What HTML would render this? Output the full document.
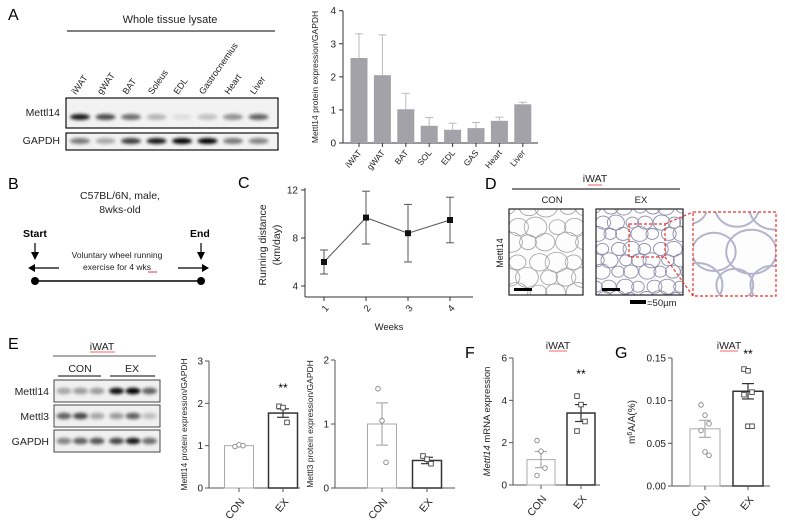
<!DOCTYPE html>
<html><head><meta charset="utf-8"><style>
html,body{margin:0;padding:0;background:#fff}
svg{display:block;font-family:"Liberation Sans",Arial,sans-serif}
</style></head><body>
<svg id="fig" width="785" height="527" viewBox="0 0 785 527" xmlns="http://www.w3.org/2000/svg">
<defs>
<filter id="blur" x="-50%" y="-100%" width="200%" height="300%"><feGaussianBlur stdDeviation="1.6"/></filter>
</defs>
<g id="root"></g>
</svg>
<script>
// ---------- Data ----------
const tissueCats = ["iWAT","gWAT","BAT","SOL","EDL","GAS","Heart","Liver"];
const tissueVals = [2.57,2.05,1.02,0.52,0.40,0.45,0.67,1.17];
const tissueErr  = [0.73,1.22,0.48,0.25,0.20,0.17,0.11,0.06];
const tissueTicks = [0,1,2,3,4];
const blotLanes = ["iWAT","gWAT","BAT","Soleus","EDL","Gastrocnemius","Heart","Liver"];
const blotM14 = [0.9,0.7,0.55,0.25,0.08,0.2,0.4,0.6];
const blotGapdh = [0.5,0.3,0.75,0.9,1.0,1.0,0.5,0.45];

const weeks = [1,2,3,4];
const runDist = [6.0,9.7,8.4,9.5];
const runErr = [1.0,2.2,2.4,1.9];
const runTicks = [4,8,12];

const groups = ["CON","EX"];
const m14Means = [1.0,1.77];
const m14Sem = [0.02,0.1];
const m14Pts = [[0.98,1.02,1.0],[1.93,1.9,1.55]];
const m14Ticks = [0,1,2,3];
const m3Means = [1.0,0.43];
const m3Sem = [0.33,0.05];
const m3Pts = [[1.55,1.05,0.4],[0.5,0.45,0.38]];
const m3Ticks = [0,1,2];
const mrnaMeans = [1.2,3.4];
const mrnaSem = [0.38,0.4];
const mrnaPts = [[2.1,1.6,0.8,0.45],[4.2,3.8,3.0,2.55]];
const mrnaTicks = [0,2,4,6];
const m6aMeans = [0.067,0.111];
const m6aSem = [0.010,0.009];
const m6aPts = [[0.095,0.083,0.073,0.065,0.040,0.036],[0.137,0.135,0.11,0.107,0.07,0.07]];
const m6aTicks = [0,0.05,0.10,0.15];
const m6aTickLabels = ["0.00","0.05","0.10","0.15"];
const blotE14 = [0.3,0.35,0.35,0.95,1.0,0.6];
const blotE3 = [0.6,0.7,0.3,0.35,0.6,0.2];
const blotEG = [0.45,0.6,0.65,0.7,0.9,0.55];

// ---------- helpers ----------
const NS="http://www.w3.org/2000/svg";
const root=document.getElementById('root');
function el(tag,attrs,parent,txt){const e=document.createElementNS(NS,tag);for(const k in attrs)e.setAttribute(k,attrs[k]);if(txt!==undefined)e.textContent=txt;(parent||root).appendChild(e);return e;}
function txt(x,y,s,size,parent,extra){const a={x:x,y:y,'font-size':size,fill:'#222'};if(extra)for(const k in extra)a[k]=extra[k];return el('text',a,parent,s);}
function lin(x1,y1,x2,y2,c,w,parent){return el('line',{x1,y1,x2,y2,stroke:c||'#000','stroke-width':w||1},parent);}

[["A",8,20],["B",8,189],["C",238,188],["D",485,189],["E",8,349],["F",465,358],["G",615,358]].forEach(p=>{
  const t=txt(p[1],p[2],p[0],16,root,{fill:'#000'});
  
  
});

// ---------- Panel A blot ----------
const gA=el('g',{},root);


txt(170,23,"Whole tissue lysate",11,gA,{'text-anchor':'middle'});
lin(67,31,275,31,'#000',1,gA);
blotLanes.forEach((n,i)=>{const x=76+i*25.5;const t=txt(x,95,n,9,gA,{transform:`rotate(-55 ${x} 95)`});
  
  });
txt(60,116,"Mettl14",10.5,gA,{'text-anchor':'end'});
txt(60,144,"GAPDH",10.5,gA,{'text-anchor':'end'});
el('rect',{x:66,y:98,width:212,height:30,fill:'#f2f2f2',stroke:'#111','stroke-width':1.2},gA);
el('rect',{x:66,y:133,width:212,height:17,fill:'#f2f2f2',stroke:'#111','stroke-width':1.2},gA);
blotLanes.forEach((n,i)=>{const x=80+i*25.5;
  el('ellipse',{cx:x,cy:117,rx:10,ry:3,fill:'#000',opacity:blotM14[i],filter:'url(#blur)'},gA);
  el('ellipse',{cx:x,cy:141,rx:10,ry:3,fill:'#000',opacity:blotGapdh[i],filter:'url(#blur)'},gA);});

// ---------- Panel A chart ----------
const aX0=343,aY0=143,aY1=10.7,aMax=4;
const ay=v=>aY0-(v/aMax)*(aY0-aY1);
const ax=i=>359+i*23.4;
const gAc=el('g',{},root);


lin(aX0,aY1,aX0,aY0,'#333',1,gAc);lin(aX0,aY0,538,aY0,'#333',1,gAc);
tissueTicks.forEach(t=>{lin(aX0-4,ay(t),aX0,ay(t),'#333',1,gAc);txt(aX0-7,ay(t)+3.5,String(t),10,gAc,{'text-anchor':'end'});});
txt(0,0,"Mettl14 protein expression/GAPDH",8.5,gAc,{transform:`translate(318,77) rotate(-90)`,'text-anchor':'middle'});
tissueCats.forEach((c,i)=>{
  const x=ax(i);
  const b=el('rect',{x:x-8.5,y:ay(tissueVals[i]),width:17,height:aY0-ay(tissueVals[i]),fill:'#a3a2a8'},gAc);
  
  
  lin(x,ay(tissueVals[i]),x,ay(tissueVals[i]+tissueErr[i]),'#bbb',1,gAc);
  lin(x-4,ay(tissueVals[i]+tissueErr[i]),x+4,ay(tissueVals[i]+tissueErr[i]),'#bbb',1,gAc);
  lin(x,aY0,x,aY0+4,'#333',1,gAc);
  txt(x+3,aY0+10,c,8.5,gAc,{'text-anchor':'end',transform:`rotate(-50 ${x+3} ${aY0+10})`});
});

// ---------- Panel B ----------
const gB=el('g',{},root);


txt(120,199,"C57BL/6N, male,",10.5,gB,{'text-anchor':'middle'});
txt(120,213,"8wks-old",10.5,gB,{'text-anchor':'middle'});
txt(23,237,"Start",10.5,gB,{'font-weight':'bold',fill:'#000'});
txt(190,237,"End",10.5,gB,{'font-weight':'bold',fill:'#000'});
lin(35,243,35,256,'#000',1.2,gB);el('path',{d:'M31,252 L39,252 L35,260 z'},gB);
lin(201,243,201,256,'#000',1.2,gB);el('path',{d:'M197,252 L205,252 L201,260 z'},gB);
txt(117,258,"Voluntary wheel running",8.5,gB,{'text-anchor':'middle'});
txt(117,270,"exercise for 4 wks",8.5,gB,{'text-anchor':'middle'});
lin(148,272,157,272,'#e33',1,gB);
lin(59,268,32,268,'#000',1.2,gB);el('path',{d:'M28,268 L35,264 L35,272 z'},gB);
lin(178,268,205,268,'#000',1.2,gB);el('path',{d:'M209,268 L202,264 L202,272 z'},gB);
lin(35,281,201,281,'#000',1.5,gB);
el('circle',{cx:35,cy:281,r:4},gB);el('circle',{cx:201,cy:281,r:4},gB);

// ---------- Panel C ----------
const cY=v=>238-(v-8)*(238-190)/4;
const cX=w=>324+(w-1)*42;
const gC=el('g',{},root);


lin(305,188,305,297,'#333',1,gC);lin(305,297,473,297,'#333',1,gC);
runTicks.forEach(t=>{lin(301,cY(t),305,cY(t),'#333',1,gC);txt(298,cY(t)+3.5,String(t),10,gC,{'text-anchor':'end'});});
txt(0,0,"Running distance",10.5,gC,{transform:`translate(266,245) rotate(-90)`,'text-anchor':'middle'});
txt(0,0,"(km/day)",10.5,gC,{transform:`translate(280,245) rotate(-90)`,'text-anchor':'middle'});
weeks.forEach(w=>{lin(cX(w),297,cX(w),301,'#333',1,gC);txt(cX(w)+2,313,String(w),9.5,gC,{'text-anchor':'middle',transform:`rotate(-50 ${cX(w)} 310)`});});
txt(389,330,"Weeks",9.5,gC,{'text-anchor':'middle'});
let dpath="";weeks.forEach((w,i)=>{dpath+=(i?"L":"M")+cX(w)+","+cY(runDist[i]);});
el('path',{d:dpath,fill:'none',stroke:'#555','stroke-width':1},gC);
weeks.forEach((w,i)=>{const x=cX(w);const hi=cY(runDist[i]+runErr[i]),lo=cY(runDist[i]-runErr[i]);
  lin(x,hi,x,lo,'#555',1,gC);lin(x-4,hi,x+4,hi,'#555',1,gC);lin(x-4,lo,x+4,lo,'#555',1,gC);
  const p=el('rect',{x:x-3,y:cY(runDist[i])-3,width:6,height:6,fill:'#111'},gC);
  
  });

// ---------- Panel D ----------
const gD=el('g',{},root);


txt(595,182,"iWAT",10.5,gD,{'text-anchor':'middle'});
lin(588,185,602,185,'#e33',0.8,gD);
lin(512,189,680,189,'#000',1,gD);
txt(552,203,"CON",9.5,gD,{'text-anchor':'middle'});
txt(641,203,"EX",9.5,gD,{'text-anchor':'middle'});
txt(0,0,"Mettl14",9,gD,{transform:`translate(503,253) rotate(-90)`,'text-anchor':'middle'});
function tissue(x,y,w,h,tint,scale,sw,g){
  el('rect',{x:x,y:y,width:w,height:h,fill:'#fdfdfe'},g);
  const cs=19*scale;
  for(let r=0;r*cs<h+cs;r++)for(let c=0;c*cs<w+cs;c++){
    const cx=x+c*cs+((r%2)?cs/2:0)+((r*7+c*3)%5-2)*scale;
    const cy=y+r*cs*0.9+((r*3+c*5)%5-2)*scale;
    const rad=cs*0.52+((r+c)%3-1)*scale*1.5;
    el('ellipse',{cx:cx,cy:cy,rx:rad,ry:rad*0.88,fill:'none',stroke:tint,'stroke-width':sw},g);
  }
}
const cp1=el('clipPath',{id:'c1'},gD);el('rect',{x:509,y:209,width:74,height:86},cp1);
const cp2=el('clipPath',{id:'c2'},gD);el('rect',{x:596,y:209,width:87,height:86},cp2);
const cp3=el('clipPath',{id:'c3'},gD);el('rect',{x:693,y:212,width:83,height:84},cp3);
const g1=el('g',{'clip-path':'url(#c1)'},gD);tissue(509,209,74,86,'#a0a0a0',1,0.8,g1);
const g2=el('g',{'clip-path':'url(#c2)'},gD);tissue(596,209,87,86,'#8e8eaa',0.75,0.9,g2);
const g3=el('g',{'clip-path':'url(#c3)'},gD);tissue(693,212,83,84,'#b4b4cc',2.2,2,g3);
el('rect',{x:509,y:209,width:74,height:86,fill:'none',stroke:'#222','stroke-width':1.2},gD);
el('rect',{x:596,y:209,width:87,height:86,fill:'none',stroke:'#222','stroke-width':1.2},gD);
el('rect',{x:514,y:288,width:18,height:3,fill:'#000'},gD);
el('rect',{x:602,y:288,width:18,height:3,fill:'#000'},gD);
el('rect',{x:629,y:224,width:36,height:33,fill:'none',stroke:'#e33','stroke-width':1.2,'stroke-dasharray':'3,2'},gD);
el('rect',{x:693,y:212,width:83,height:84,fill:'none',stroke:'#e33','stroke-width':1.2,'stroke-dasharray':'3,2'},gD);
lin(665,224,693,212,'#e33',1.2,gD).setAttribute('stroke-dasharray','3,2');
lin(665,257,693,296,'#e33',1.2,gD).setAttribute('stroke-dasharray','3,2');
el('rect',{x:630,y:300,width:16,height:4,fill:'#000'},gD);
txt(647,306,"=50µm",9.5,gD);

// ---------- Panel E blot ----------
const gE=el('g',{},root);


txt(102,350,"iWAT",10.5,gE,{'text-anchor':'middle'});
lin(90,352,115,352,'#e33',0.8,gE);
lin(53,356,156,356,'#555',1,gE);
txt(80,372,"CON",10.5,gE,{'text-anchor':'middle'});
txt(132,372,"EX",10.5,gE,{'text-anchor':'middle'});
lin(58,376,101,376,'#000',1,gE);lin(110,376,155,376,'#000',1,gE);
[["Mettl14",380,blotE14],["Mettl3",405,blotE3],["GAPDH",430,blotEG]].forEach(b=>{
  txt(49,b[1]+15,b[0],10.5,gE,{'text-anchor':'end'});
  el('rect',{x:54,y:b[1],width:106,height:22,fill:'#f0f0f0',stroke:'#444','stroke-width':1},gE);
  b[2].forEach((o,i)=>el('ellipse',{cx:64+i*16.5+(i>2?3:0),cy:b[1]+11,rx:7.5,ry:3.2,fill:'#000',opacity:o,filter:'url(#blur)'},gE));
});

// ---------- bar+scatter charts ----------
function barChart(name,ax0,yTop,yBot,ticks,tickLabels,means,sem,pts,barX,bw,ylabel,labX,axisEnd,star){
  const g=el('g',{},root);
  
  
  const vmax=ticks[ticks.length-1];
  const y=v=>yBot-(v/vmax)*(yBot-yTop);
  lin(ax0,yTop,ax0,yBot,'#555',1,g);lin(ax0,yBot,axisEnd,yBot,'#555',1,g);
  ticks.forEach((t,i)=>{lin(ax0-4,y(t),ax0,y(t),'#555',1,g);txt(ax0-6,y(t)+3.5,tickLabels[i],10,g,{'text-anchor':'end'});});
  groups.forEach((gr,i)=>{
    const cx=barX[i];const col=i?'#333':'#aaa';
    const b=el('rect',{x:cx-bw/2,y:y(means[i]),width:bw,height:yBot-y(means[i]),fill:'#fff',stroke:col,'stroke-width':i?1.5:1},g);
    
    
    lin(cx,y(means[i]+sem[i]),cx,y(means[i]-sem[i]),col,1.2,g);
    lin(cx-6,y(means[i]+sem[i]),cx+6,y(means[i]+sem[i]),col,1.2,g);
    lin(cx-6,y(means[i]-sem[i]),cx+6,y(means[i]-sem[i]),col,1.2,g);
    pts[i].forEach((p,j)=>{const dx=((j%3)-1)*4;
      if(i===0) el('circle',{cx:cx+dx,cy:y(p),r:2.3,fill:'#fff',stroke:'#888','stroke-width':0.9},g);
      else el('rect',{x:cx+dx-2.3,y:y(p)-2.3,width:4.6,height:4.6,fill:'#fff',stroke:'#444','stroke-width':0.9},g);});
    lin(cx,yBot,cx,yBot+4,'#555',1,g);
    txt(cx+6,yBot+14,gr,10.5,g,{'text-anchor':'end',transform:`rotate(-50 ${cx+6} ${yBot+14})`});
  });
  if(star) txt(barX[1],star,"**",12,g,{'text-anchor':'middle',fill:'#000'});
  if(ylabel) g.appendChild(ylabel(labX,(yTop+yBot)/2));
  return g;
}
function simpleLabel(s,size){return (x,yc)=>{const t=document.createElementNS(NS,'text');t.setAttribute('transform',`translate(${x},${yc}) rotate(-90)`);t.setAttribute('text-anchor','middle');t.setAttribute('font-size',size);t.setAttribute('fill','#222');t.textContent=s;return t;};}
barChart('mettl14-protein-chart',209,361,488,m14Ticks,m14Ticks.map(String),m14Means,m14Sem,m14Pts,[239,283],29,simpleLabel("Mettl14 protein expression/GAPDH",8.5),187,300,392);
barChart('mettl3-protein-chart',335,360,488,m3Ticks,m3Ticks.map(String),m3Means,m3Sem,m3Pts,[382,427],29,simpleLabel("Mettl3 protein expression/GAPDH",8.5),313,455,null);
barChart('mettl14-mrna-chart',513,358,485,mrnaTicks,mrnaTicks.map(String),mrnaMeans,mrnaSem,mrnaPts,[541,581],28,(x,yc)=>{const t=document.createElementNS(NS,'text');t.setAttribute('transform',`translate(${x},${yc}) rotate(-90)`);t.setAttribute('text-anchor','middle');t.setAttribute('font-size','9.5');t.setAttribute('fill','#222');const s=document.createElementNS(NS,'tspan');s.setAttribute('font-style','italic');s.textContent='Mettl14';t.appendChild(s);t.appendChild(document.createTextNode(' mRNA expression'));return t;},490,600,378);
barChart('m6a-chart',672,358,486,m6aTicks,m6aTickLabels,m6aMeans,m6aSem,m6aPts,[705,748],30,(x,yc)=>{const t=document.createElementNS(NS,'text');t.setAttribute('transform',`translate(${x},${yc}) rotate(-90)`);t.setAttribute('text-anchor','middle');t.setAttribute('font-size','10');t.setAttribute('fill','#222');t.appendChild(document.createTextNode('m'));const s=document.createElementNS(NS,'tspan');s.setAttribute('baseline-shift','super');s.setAttribute('font-size','7');s.textContent='6';t.appendChild(s);t.appendChild(document.createTextNode('A/A(%)'));return t;},635,770,358);
txt(558,349,"iWAT",10.5,root,{'text-anchor':'middle'});lin(549,351,567,351,'#e33',0.8);
txt(729,349,"iWAT",10.5,root,{'text-anchor':'middle'});lin(720,351,738,351,'#e33',0.8);
</script>
</body></html>
